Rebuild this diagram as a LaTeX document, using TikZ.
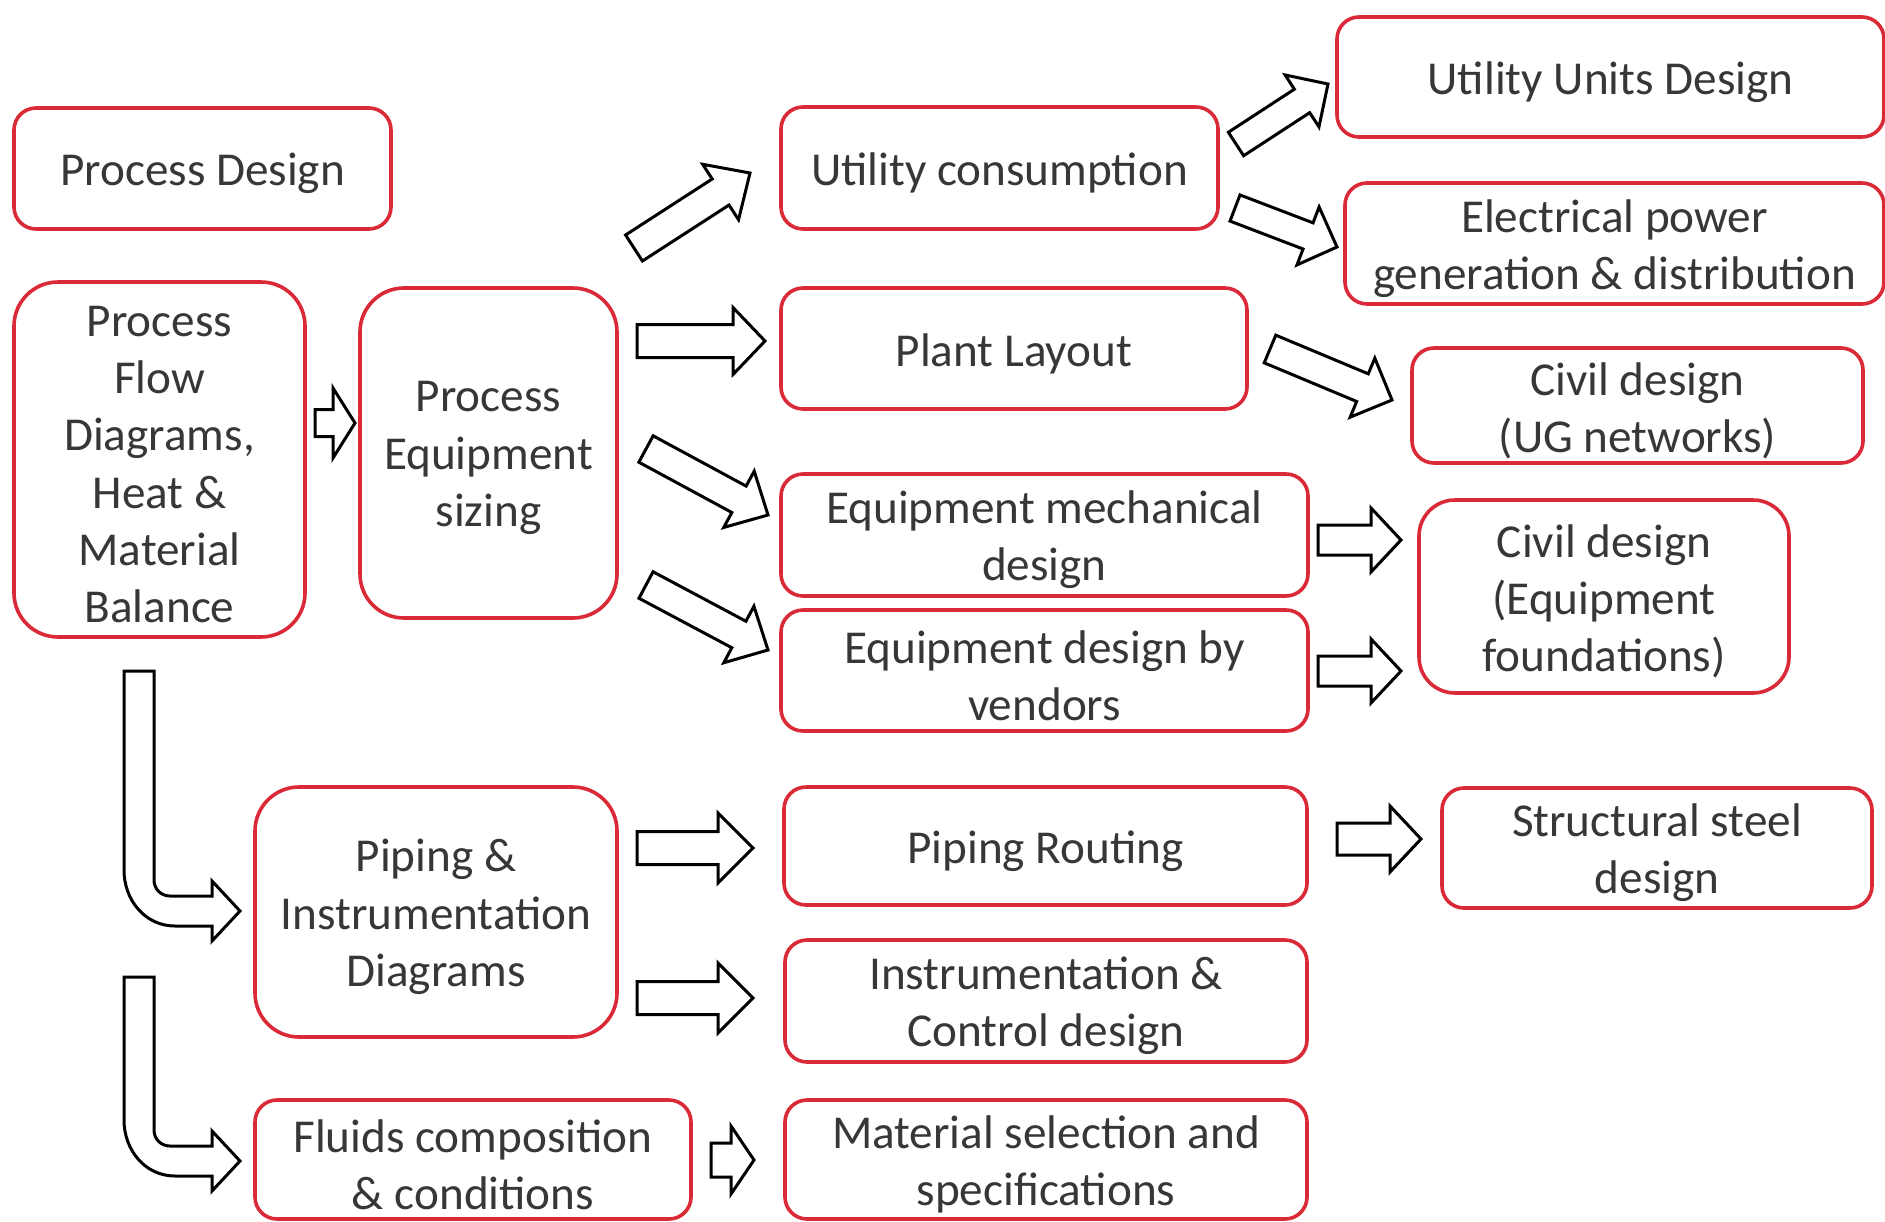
\documentclass[tikz,border=0pt]{standalone}
\usepackage{fontspec}
\setmainfont{Carlito}
\usetikzlibrary{calc}
\definecolor{boxred}{RGB}{218,41,55}
\definecolor{txtgray}{RGB}{55,55,55}
% one text line, lowered slightly without changing its box
\newcommand{\dnl}[1]{\raisebox{-2.5pt}[\height][\depth]{#1}}
% block (hollow) arrow: #1 tail, #2 tip, #3 half shaft width, #4 half head width, #5 head length
\newcommand{\barrow}[5]{%
  \coordinate (tmpB) at ($(#2)!#5!(#1)$);
  \draw[blockarrow] ($(#1)!#3!90:(#2)$) -- ($(tmpB)!#3!90:(#2)$) -- ($(tmpB)!#4!90:(#2)$) -- (#2)
     -- ($(tmpB)!#4!-90:(#2)$) -- ($(tmpB)!#3!-90:(#2)$) -- ($(#1)!#3!-90:(#2)$) -- cycle;
}
\begin{document}
\begin{tikzpicture}[x=0.5pt, y=-0.5pt,
  box/.style={draw=boxred, line width=1.8pt, rounded corners=11pt, align=center, inner sep=0pt,
    text=txtgray, font=\fontsize{23.6pt}{28.6pt}\selectfont},
  bigbox/.style={box, rounded corners=22pt},
  blockarrow/.style={draw=black, line width=1.5pt, fill=white}]
\fill[white] (0,0) rectangle (1885,1221);
\useasboundingbox (0,0) rectangle (1885,1221);

% boxes
\node[box, minimum width=188.5pt, minimum height=60.5pt] (pd) at (202.5,168.5) {\dnl{Process Design}};
\node[bigbox, minimum width=145.5pt, minimum height=177.5pt] (pfd) at (159.5,459.5) {\dnl{Process}\\\dnl{Flow}\\\dnl{Diagrams,}\\\dnl{Heat \&}\\\dnl{Material}\\\dnl{Balance}};
\node[bigbox, minimum width=128.5pt, minimum height=165pt] (pes) at (488.5,453) {\dnl{Process}\\\dnl{Equipment}\\\dnl{sizing}};
\node[box, minimum width=218.5pt, minimum height=61pt] (uc) at (999.5,168) {\dnl{Utility consumption}};
\node[box, minimum width=233pt, minimum height=60.5pt] (pl) at (1014,348.5) {\dnl{Plant Layout}};
\node[box, minimum width=263.5pt, minimum height=61pt] (emd) at (1044.5,535) {\dnl{Equipment mechanical}\\\dnl{design}};
\node[box, minimum width=263.5pt, minimum height=60.5pt] (edv) at (1044.5,670.5) {\dnl{Equipment design by}\\\dnl{vendors}};
\node[box, minimum width=261.5pt, minimum height=59pt] (pr) at (1045.5,846) {\dnl{Piping Routing}};
\node[box, minimum width=261pt, minimum height=61pt] (ic) at (1046,1001) {\dnl{Instrumentation \&}\\\dnl{Control design}};
\node[box, minimum width=261pt, minimum height=59.5pt] (ms) at (1046,1159.5) {\dnl{Material selection and}\\\dnl{specifications}};
\node[bigbox, minimum width=181pt, minimum height=125pt] (pid) at (436,912) {\dnl{Piping \&}\\\dnl{Instrumentation}\\\dnl{Diagrams}};
\node[box, minimum width=218pt, minimum height=59.5pt] (fl) at (473,1159.5) {\dnl{Fluids composition}\\\dnl{\& conditions}};
\node[box, minimum width=273.5pt, minimum height=60pt] (uud) at (1610.5,77) {\dnl{Utility Units Design}};
\node[box, minimum width=269.5pt, minimum height=60.5pt] (epg) at (1614.5,243.5) {\dnl{Electrical power}\\\dnl{generation \& distribution}};
\node[box, minimum width=225.5pt, minimum height=57.5pt] (cug) at (1637.5,405.5) {\dnl{Civil design}\\\dnl{(UG networks)}};
\node[box, rounded corners=18pt, minimum width=185pt, minimum height=96.5pt] (ceq) at (1604,596.5) {\dnl{Civil design}\\\dnl{(Equipment}\\\dnl{foundations)}};
\node[box, minimum width=215pt, minimum height=60pt] (ss) at (1657,848) {\dnl{Structural steel}\\\dnl{design}};

% arrow end points
\coordinate (a1t) at (315,423);   \coordinate (a1p) at (355,423);
\coordinate (a2t) at (634,248);   \coordinate (a2p) at (750,173);
\coordinate (a3t) at (637,341);   \coordinate (a3p) at (765,341);
\coordinate (a4t) at (646,449);   \coordinate (a4p) at (768,515);
\coordinate (a5t) at (646,585);   \coordinate (a5p) at (768,650);
\coordinate (a6t) at (1236,144);  \coordinate (a6p) at (1328,84);
\coordinate (a7t) at (1235,208);  \coordinate (a7p) at (1337,247);
\coordinate (a8t) at (1270,349);  \coordinate (a8p) at (1392,400);
\coordinate (a9t) at (1318,540);  \coordinate (a9p) at (1401,540);
\coordinate (a10t) at (1318,671); \coordinate (a10p) at (1401,671);
\coordinate (a11t) at (1337,839); \coordinate (a11p) at (1421,839);
\coordinate (a12t) at (637,848);  \coordinate (a12p) at (753,848);
\coordinate (a13t) at (637,998);  \coordinate (a13p) at (753,998);
\coordinate (a14t) at (711,1160); \coordinate (a14p) at (754,1160);

\barrow{a1t}{a1p}{6.75pt}{17.5pt}{11pt}
\barrow{a2t}{a2p}{7.75pt}{16.5pt}{17.5pt}
\barrow{a3t}{a3p}{8.25pt}{16.75pt}{16pt}
\barrow{a4t}{a4p}{7.5pt}{16pt}{16.5pt}
\barrow{a5t}{a5p}{7.5pt}{16pt}{16.5pt}
\barrow{a6t}{a6p}{7pt}{15.5pt}{15.5pt}
\barrow{a7t}{a7p}{7pt}{15.5pt}{15.5pt}
\barrow{a8t}{a8p}{7.5pt}{16pt}{16pt}
\barrow{a9t}{a9p}{7.5pt}{16pt}{15pt}
\barrow{a10t}{a10p}{7.5pt}{16pt}{15pt}
\barrow{a11t}{a11p}{8pt}{16.5pt}{15.5pt}
\barrow{a12t}{a12p}{8.25pt}{17.5pt}{17.5pt}
\barrow{a13t}{a13p}{8.25pt}{17.5pt}{17.5pt}
\barrow{a14t}{a14p}{8.5pt}{17pt}{11.5pt}

% bent arrows from the PFD box
\draw[blockarrow] (124,671) -- (124,870) .. controls (124,900) and (145,926) .. (175,926) -- (212,926)
  -- (212,941) -- (240,911) -- (212,881) -- (212,896) -- (170,896)
  .. controls (161,896) and (154,889) .. (154,880) -- (154,671) -- cycle;
\draw[blockarrow] (124,977) -- (124,1120) .. controls (124,1150) and (145,1176) .. (175,1176) -- (212,1176)
  -- (212,1191) -- (240,1161) -- (212,1131) -- (212,1146) -- (170,1146)
  .. controls (161,1146) and (154,1139) .. (154,1130) -- (154,977) -- cycle;
\end{tikzpicture}
\end{document}
